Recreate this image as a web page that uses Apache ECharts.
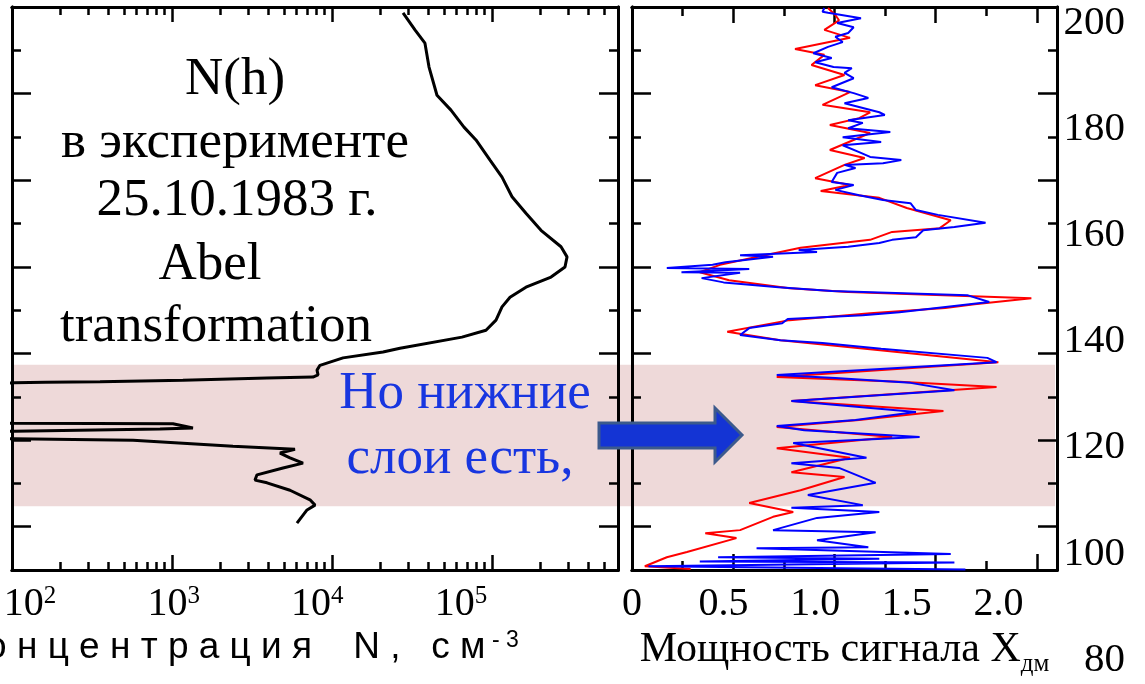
<!DOCTYPE html>
<html>
<head>
<meta charset="utf-8">
<title>N(h) 25.10.1983</title>
<script src="https://cdn.jsdelivr.net/npm/echarts@6/dist/echarts.min.js"></script>
<style>
  html, body { margin: 0; padding: 0; background: #fff; }
  #chart { width: 1145px; height: 684px; }
</style>
</head>
<body>
<div id="chart"></div>
<script>
// N(h) profile (Abel transformation), read from top to bottom
const densityN = [27800, 33000, 38100, 40400, 45300, 55400, 66800, 79400, 97200, 115500,
    133400, 163000, 202400, 270000, 294400, 285900, 233900, 163000, 129600, 115500,
    105900, 91700, 64900, 26600, 20840, 11720, 8410, 8060, 8180, 7600,
    3920, 1170, 355, 161, 103, 50, 50, 103, 1014, 1352,
    841, 103, 50, 50, 103, 571, 2405, 5870, 4730, 5463,
    6588, 4941, 3398, 3300, 3924, 5463, 7287, 7834, 6980, 6040];
const densityH = [201.0, 197.8, 195.3, 190.8, 185.5, 182.7, 179.5, 177.1, 173.3, 170.1,
    166.4, 163.3, 160.1, 157.0, 155.1, 153.2, 151.3, 149.4, 147.5, 145.7,
    143.2, 141.3, 140.0, 137.9, 137.2, 136.1, 134.7, 133.8, 132.9, 132.5,
    132.3, 131.9, 131.6, 131.5, 131.4, 131.3, 124.0, 123.8, 123.7, 122.9,
    122.7, 122.3, 122.2, 121.0, 120.9, 120.6, 119.5, 118.9, 118.2, 117.3,
    116.3, 115.4, 114.1, 113.1, 112.6, 111.2, 109.4, 108.4, 107.5, 105.0];

// signal power, blue trace
const blueX = [1.05, 1.04, 1.07, 1.25, 1.12, 1.21, 1.18, 1.11, 1.15, 1.07,
    0.99, 1.09, 1.00, 1.10, 1.20, 1.16, 1.21, 1.09, 1.21, 1.29,
    1.16, 1.35, 1.38, 1.18, 1.26, 1.18, 1.41, 1.15, 1.36, 1.15,
    1.24, 1.30, 1.47, 1.37, 1.16, 1.22, 1.12, 1.09, 1.21, 1.11,
    1.24, 1.37, 1.52, 1.55, 1.67, 1.93, 1.76, 1.59, 1.55, 1.42,
    1.35, 1.18, 0.91, 1.01, 0.59, 0.77, 0.51, 0.44, 0.19, 0.64,
    0.27, 0.59, 0.38, 0.50, 0.80, 1.09, 1.83, 1.95, 1.46, 1.26,
    0.85, 0.82, 0.64, 0.59, 0.81, 1.04, 1.36, 1.94, 1.99, 0.79,
    1.11, 1.52, 1.76, 0.87, 1.55, 1.22, 0.79, 0.94, 1.57, 0.88,
    1.28, 0.87, 1.13, 1.33, 0.96, 1.26, 0.87, 1.35, 1.01, 0.77,
    1.33, 1.01, 1.29, 0.68, 1.74, 0.47, 1.35, 0.37, 1.76, 0.09, 1.82];
const blueH = [201.9, 201.2, 201.0, 200.0, 199.1, 198.3, 197.2, 196.5, 195.5, 194.6,
    193.4, 192.5, 191.7, 190.8, 190.6, 189.7, 188.7, 187.0, 185.9, 185.0,
    184.0, 182.3, 181.8, 180.8, 180.3, 179.3, 178.6, 177.6, 176.7, 176.1,
    174.8, 173.9, 173.3, 172.7, 172.4, 171.8, 170.9, 169.2, 168.6, 167.7,
    166.7, 165.8, 165.2, 163.9, 163.0, 161.5, 160.7, 160.1, 158.8, 158.3,
    157.7, 157.0, 156.4, 156.0, 155.4, 155.1, 154.1, 153.6, 153.0, 152.8,
    152.2, 152.1, 151.1, 150.3, 149.4, 148.7, 147.9, 146.6, 144.7, 144.1,
    143.4, 142.6, 141.7, 140.4, 139.4, 138.9, 137.8, 136.1, 135.3, 132.9,
    132.3, 131.4, 130.0, 128.0, 125.9, 124.4, 123.3, 122.5, 121.2, 120.1,
    117.3, 116.3, 115.4, 112.6, 110.3, 108.4, 107.9, 107.1, 106.0, 103.7,
    103.3, 101.8, 100.5, 100.3, 99.2, 98.6, 98.3, 97.8, 97.6, 96.9, 96.3];

// signal power, red trace
const redX = [1.07, 1.11, 1.13, 1.05, 1.19, 0.89, 1.05, 0.98, 1.16, 1.00,
    1.19, 1.04, 1.30, 1.24, 1.08, 1.30, 1.08, 1.27, 1.16, 1.00,
    1.19, 1.03, 1.35, 1.50, 1.74, 1.68, 1.42, 1.30, 0.92, 0.70,
    0.48, 0.37, 0.53, 0.86, 1.18, 2.18, 1.87, 1.71, 1.30, 0.86,
    0.52, 0.81, 1.34, 2.00, 0.79, 1.46, 1.99, 0.87, 1.70, 1.24,
    0.79, 1.42, 0.79, 1.19, 0.87, 1.16, 0.92, 0.64, 0.88, 0.77,
    0.59, 0.40, 0.57, 0.30, 0.19, 0.07, 0.32];
const redH = [201.9, 200.6, 199.6, 197.8, 196.3, 194.2, 193.1, 191.2, 189.3, 187.4,
    186.1, 183.7, 182.3, 181.2, 179.9, 178.4, 175.2, 173.7, 172.4, 169.9,
    168.6, 167.5, 166.2, 164.3, 162.0, 160.5, 159.8, 158.3, 156.8, 155.2,
    153.6, 152.2, 150.7, 149.2, 148.5, 147.3, 146.2, 145.5, 144.5, 143.2,
    141.0, 139.4, 137.6, 135.3, 132.5, 131.6, 130.6, 128.0, 126.1, 124.4,
    123.1, 121.2, 119.1, 117.3, 114.6, 113.7, 111.2, 108.8, 107.1, 106.2,
    103.7, 103.1, 102.2, 99.6, 98.6, 96.9, 96.4];

// axis ticks and labels
const concLabels = [1e2, 1e3, 1e4, 1e5];
const concMinor = [2e2, 3e2, 4e2, 5e2, 6e2, 7e2, 8e2, 9e2, 2e3, 3e3, 4e3, 5e3, 6e3, 7e3, 8e3, 9e3,
    2e4, 3e4, 4e4, 5e4, 6e4, 7e4, 8e4, 9e4, 2e5, 3e5, 4e5, 5e5];
const powerLabels = [0, 0.5, 1.0, 1.5, 2.0];
const heightLabels = [80, 100, 120, 140, 160, 180, 200];
const lowerLayers = [108.2, 134.8];

const SERIF = "'Liberation Serif', 'Times New Roman', serif";
const SANS = "'Liberation Sans', Arial, sans-serif";
const INK = "#000";
const NOTE_BLUE = "#1836e0";

const H_MIN = 96.2, H_MAX = 202.1;
const N_MIN = 100, N_MAX = 6.13e5;
const X_MAX = 2.32;

function pairs(xs, ys) {
    return xs.map((x, i) => [x, ys[i]]);
}

function frameAxis(gridIndex, position, extra, ticks, length) {
    return Object.assign({
        type: "value",
        gridIndex,
        position,
        axisLine: { show: true, onZero: false, lineStyle: { color: INK, width: 3 } },
        axisTick: {
            show: true,
            inside: true,
            length,
            customValues: ticks,
            lineStyle: { color: INK, width: 2.5 }
        },
        axisLabel: { show: false },
        splitLine: { show: false },
        silent: true
    }, extra);
}

function trace(name, xs, ys, color, z) {
    return {
        name,
        type: "line",
        xAxisIndex: 4,
        yAxisIndex: 5,
        data: pairs(xs, ys),
        showSymbol: false,
        clip: true,
        lineStyle: { color, width: 2 },
        z
    };
}

const concRange = { type: "log", min: N_MIN, max: N_MAX };
const stepY = { min: 0, max: 13 };
const stepX = { min: 0, max: 8.4 };
const majorY = [1, 3, 5, 7, 9, 11];
const minorY = [2, 4, 6, 8, 10, 12];

const gridBase = { containLabel: false, outerBoundsMode: "none" };

const option = {
    animation: false,
    backgroundColor: "#fff",
    grid: [
        Object.assign({ left: 12, top: 7, width: 606, height: 563 }, gridBase),
        Object.assign({ left: 632, top: 7, width: 425, height: 563 }, gridBase),
        Object.assign({ left: 30, top: 7, width: 431, height: 563 }, gridBase),
        Object.assign({ left: 632, top: 23, width: 425, height: 637 }, gridBase)
    ],
    xAxis: [
        frameAxis(0, "bottom", concRange, concLabels, 15),
        frameAxis(0, "bottom", concRange, concMinor, 8),
        frameAxis(0, "top", concRange, concLabels, 15),
        frameAxis(0, "top", concRange, concMinor, 8),
        {
            type: "value",
            gridIndex: 1,
            min: 0,
            max: X_MAX,
            position: "bottom",
            axisLine: { show: false, onZero: false },
            axisTick: { show: false },
            splitLine: { show: false },
            axisLabel: {
                customValues: powerLabels,
                margin: 14,
                color: INK,
                fontFamily: SERIF,
                fontSize: 40,
                formatter: v => (v === 0 ? "0" : v.toFixed(1))
            },
            name: "{m|Мощность сигнала X}{s|дм}",
            nameLocation: "middle",
            nameGap: 47,
            nameTextStyle: {
                rich: {
                    m: { fontFamily: SERIF, fontSize: 42, color: INK, lineHeight: 42, verticalAlign: "top" },
                    s: { fontFamily: SERIF, fontSize: 25, color: INK, lineHeight: 25, verticalAlign: "top", padding: [23, 0, 0, 0] }
                }
            }
        },
        frameAxis(1, "bottom", stepX, [2, 4, 6, 8], 16),
        frameAxis(1, "bottom", stepX, [1, 3, 5, 7], 9),
        frameAxis(1, "top", stepX, [2, 4, 6, 8], 16),
        frameAxis(1, "top", stepX, [1, 3, 5, 7], 9),
        {
            type: "log",
            gridIndex: 2,
            min: 1e2,
            max: 1e5,
            position: "bottom",
            axisLine: { show: false, onZero: false },
            axisTick: { show: false },
            splitLine: { show: false },
            axisLabel: {
                customValues: concLabels,
                margin: 14,
                formatter: v => "{b|10}{s|" + Math.round(Math.log10(v)) + "}",
                rich: {
                    b: { fontFamily: SERIF, fontSize: 40, color: INK, lineHeight: 40, verticalAlign: "top" },
                    s: { fontFamily: SERIF, fontSize: 25, color: INK, lineHeight: 25, verticalAlign: "top" }
                }
            },
            name: "{m|К о н ц е н т р а ц и я    N ,   с м}{s| - 3}",
            nameLocation: "middle",
            nameGap: 46,
            nameTextStyle: {
                padding: [0, 18, 0, 0],
                rich: {
                    m: { fontFamily: SANS, fontSize: 37, color: INK, lineHeight: 40, verticalAlign: "top" },
                    s: { fontFamily: SANS, fontSize: 23, color: INK, lineHeight: 23, verticalAlign: "top" }
                }
            }
        },
        { type: "value", gridIndex: 3, min: 0, max: 1, show: false }
    ],
    yAxis: [
        { type: "value", gridIndex: 0, min: H_MIN, max: H_MAX, show: false },
        frameAxis(0, "left", stepY, majorY, 19),
        frameAxis(0, "left", stepY, minorY, 9),
        frameAxis(0, "right", stepY, majorY, 19),
        frameAxis(0, "right", stepY, minorY, 9),
        { type: "value", gridIndex: 1, min: H_MIN, max: H_MAX, show: false },
        frameAxis(1, "left", stepY, majorY, 19),
        frameAxis(1, "left", stepY, minorY, 9),
        frameAxis(1, "right", stepY, majorY, 19),
        frameAxis(1, "right", stepY, minorY, 9),
        {
            type: "value",
            gridIndex: 3,
            min: 80,
            max: 200,
            position: "right",
            axisLine: { show: false },
            axisTick: { show: false },
            splitLine: { show: false },
            axisLabel: {
                customValues: heightLabels,
                margin: 68,
                align: "right",
                color: INK,
                fontFamily: SERIF,
                fontSize: 41
            }
        },
        { type: "value", gridIndex: 2, min: 0, max: 1, show: false }
    ],
    series: [
        {
            name: "N(h)",
            type: "line",
            xAxisIndex: 0,
            yAxisIndex: 0,
            data: pairs(densityN, densityH),
            showSymbol: false,
            clip: true,
            lineStyle: { color: INK, width: 3 },
            z: 3
        },
        trace("red", redX, redH, "#ff0000", 3),
        trace("blue", blueX, blueH, "#0000ff", 4)
    ]
};

const chart = echarts.init(document.getElementById("chart"), null, { renderer: "canvas" });
chart.setOption(option);

// pink band over the lower layers, spanning both panels
const bandTop = chart.convertToPixel({ yAxisIndex: 0 }, lowerLayers[1]);
const bandBottom = chart.convertToPixel({ yAxisIndex: 0 }, lowerLayers[0]);

function label(text, x, y, color) {
    return {
        type: "text",
        x,
        y,
        z: 10,
        style: {
            text,
            fill: color || INK,
            fontFamily: SERIF,
            fontSize: 53,
            align: "center",
            verticalAlign: "middle"
        }
    };
}

chart.setOption({
    graphic: [
        {
            type: "rect",
            z: -1,
            shape: { x: 14, y: bandTop, width: 1041, height: bandBottom - bandTop },
            style: { fill: "#eed9d9" }
        },
        label("N(h)", 235, 80),
        label("в эксперименте", 235, 143),
        label("25.10.1983 г.", 237, 201),
        label("Abel", 210, 265),
        label("transformation", 216, 327),
        label("Но нижние", 465, 394, NOTE_BLUE),
        label("слои есть,", 460, 459, NOTE_BLUE),
        {
            type: "polygon",
            z: 10,
            shape: {
                points: [[599, 423], [715, 423], [715, 408], [742, 435], [715, 462], [715, 448], [599, 448]]
            },
            style: { fill: "#1434d4", stroke: "#3c5a8c", lineWidth: 3 }
        }
    ]
});
</script>
</body>
</html>
